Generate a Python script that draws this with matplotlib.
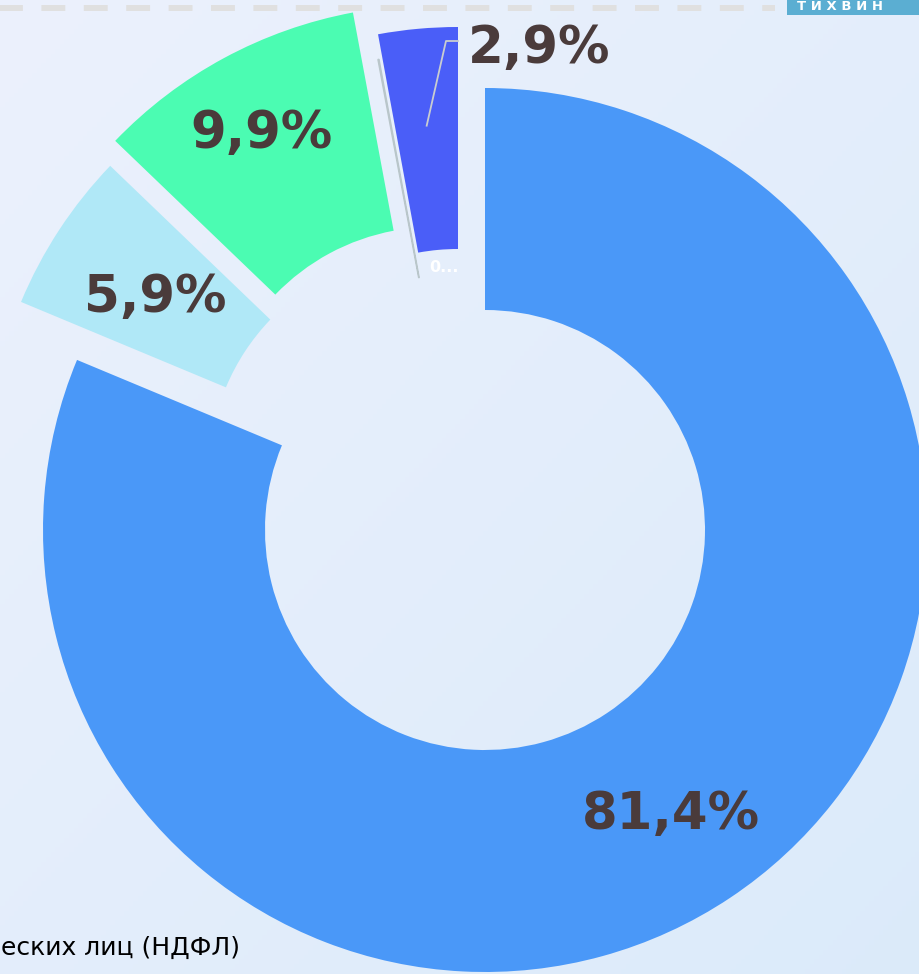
import numpy as np
import matplotlib
matplotlib.use("Agg")
import matplotlib.pyplot as plt
from matplotlib.patches import Rectangle

# shares of budget revenue, % (clockwise from 12 o'clock)
names = [
    "еских лиц (НДФЛ)",
    "Прочие налоговые доходы",
    "Неналоговые доходы",
    "Прочие",
    "Безвозмездные поступления",
]
values = [81.4, 5.9, 9.9, 0.04, 2.9]
labels = ["81,4%", "5,9%", "9,9%", "0...", "2,9%"]
colors = ["#4A98F8", "#B0E8F7", "#4BFCB2", "#B9C6CA", "#4A5EF8"]

W, H = 920, 974
CX, CY = 485, H - 530
R, RING = 442, 222
# pulled-out offsets of the small slices (px, y up)
shift = [(0, 0), (-56, 58), (-51, 83), (-26, 36), (-27, 61)]
label_r = [0.76, 0.74, 0.82, None, None]

fig = plt.figure(figsize=(W / 100, H / 100), dpi=100)
ax = fig.add_axes([0, 0, 1, 1])

# soft background
yy, xx = np.mgrid[0:1:200j, 0:1:200j]
bg = np.zeros((200, 200, 3))
c1 = np.array([0.925, 0.945, 0.99])
c2 = np.array([0.86, 0.92, 0.98])
t = (0.5 * xx + 0.5 * yy)[..., None]
bg[:] = c1 * (1 - t) + c2 * t
ax.imshow(bg, extent=[0, W, 0, H], origin="upper", zorder=0, aspect="auto")

ax.plot([-10, 775], [H - 8, H - 8], color="#E0E0E0", lw=4.3, ls=(0, (4.0, 3.1)), zorder=1)
ax.add_patch(Rectangle((787, H - 15), 140, 20, facecolor="#5BAED2", edgecolor="none", zorder=1))
ax.text(797, H - 7, "Т И Х В И Н", color="white", fontsize=9.5, fontweight="bold", va="center", ha="left", zorder=2)

wedges, _ = ax.pie(
    values,
    colors=colors,
    startangle=90,
    counterclock=False,
    radius=R,
    center=(CX, CY),
    wedgeprops=dict(width=RING, linewidth=0),
    frame=True,
)
ax.set_xlim(0, W)
ax.set_ylim(0, H)
ax.set_aspect("auto")
ax.axis("off")

for w, (dx, dy) in zip(wedges, shift):
    w.set_center((CX + dx, CY + dy))
    w.set_zorder(3)
wedges[3].set_edgecolor("#B9C6CA")
wedges[3].set_linewidth(1.0)

txt_kw = dict(color="#4A3B3B", fontsize=37, fontweight="bold", ha="center", va="center_baseline", zorder=5)
for i, w in enumerate(wedges):
    if label_r[i] is None:
        continue
    mid = np.deg2rad((w.theta1 + w.theta2) / 2)
    x0, y0 = w.center
    ax.text(x0 + label_r[i] * R * np.cos(mid), y0 + label_r[i] * R * np.sin(mid), labels[i], **txt_kw)

# 2,9% outside label with leader
w = wedges[4]
x0, y0 = w.center
mid = np.deg2rad((w.theta1 + w.theta2) / 2)
px, py = x0 + 0.78 * R * np.cos(mid), y0 + 0.78 * R * np.sin(mid)
ax.plot([px, 446, 458], [py, H - 41, H - 41], color="#C9CDD0", lw=1.3, zorder=4)
ax.text(468, H - 43, labels[4], **{**txt_kw, "ha": "left"})

# tiny slice label
ax.text(429, H - 268, labels[3], color="white", fontsize=11.5, fontweight="bold", ha="left", va="center", zorder=5)

# legend entry, cut by the slide edge
ax.text(1, H - 948, names[0], color="black", fontsize=18, ha="left", va="center", zorder=5)

fig.savefig("out.png", dpi=100)
